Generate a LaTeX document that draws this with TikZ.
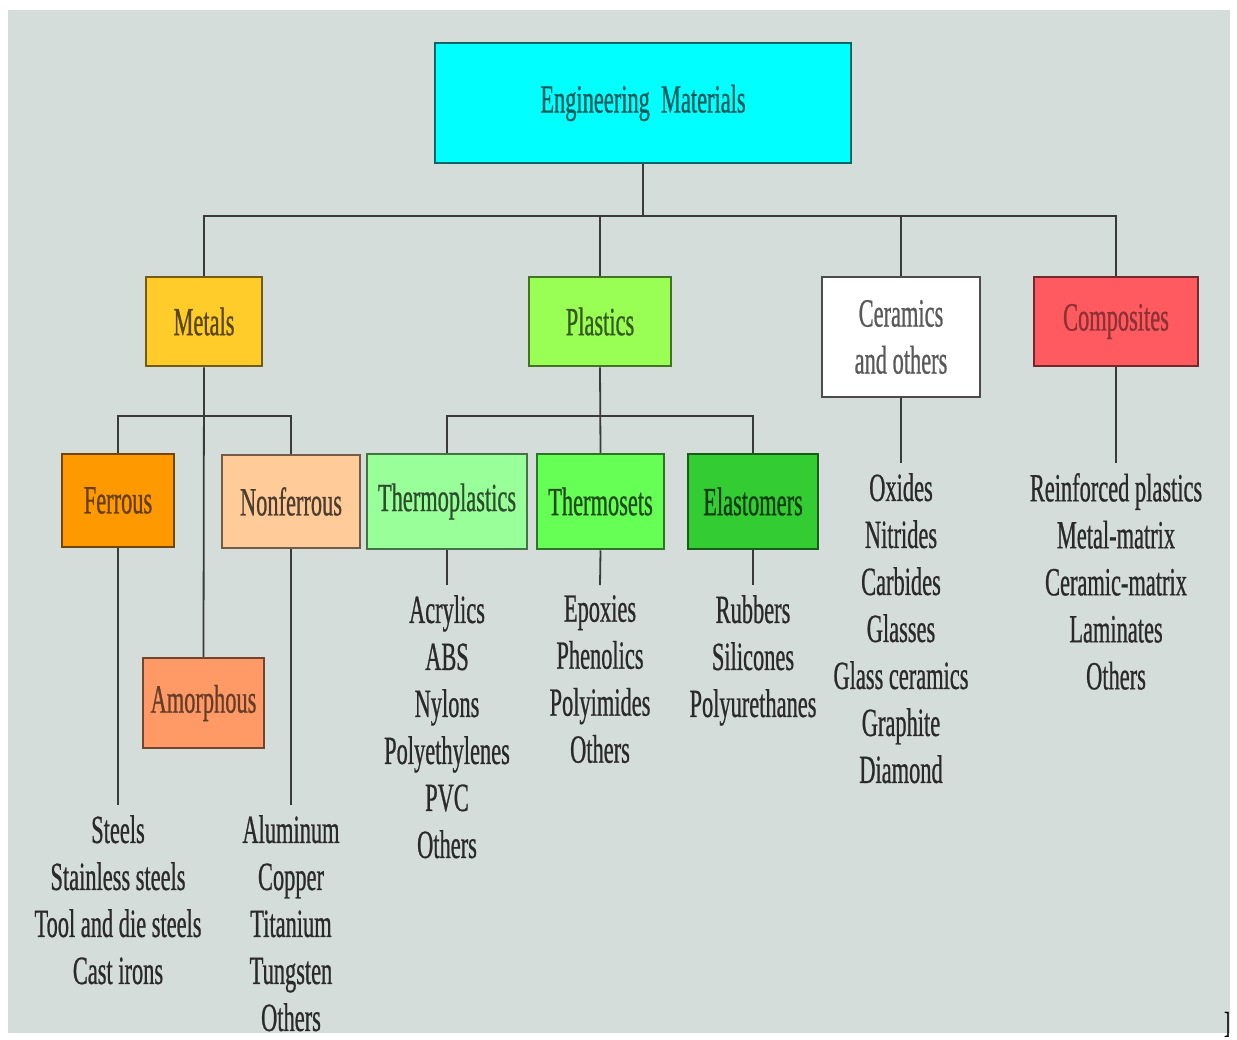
\documentclass[tikz,border=0pt]{standalone}
\usepackage{fontspec}
\setmainfont{Liberation Serif}[FakeStretch=0.56,FakeBold=0.6]
\usetikzlibrary{calc,positioning}

\definecolor{panelbg}{HTML}{D4DDD9}
\definecolor{wire}{HTML}{3A3A3A}
\definecolor{listink}{HTML}{2A2A2A}
\definecolor{emfill}{HTML}{00FFFF}
\definecolor{metalfill}{HTML}{FFCC2A}
\definecolor{plasticfill}{HTML}{99FF55}
\definecolor{compfill}{HTML}{FF5A5F}
\definecolor{ferrfill}{HTML}{FF9900}
\definecolor{nonferrfill}{HTML}{FFCC99}
\definecolor{amorphfill}{HTML}{FF9966}
\definecolor{tplastfill}{HTML}{99FF99}
\definecolor{tsetfill}{HTML}{66FF55}
\definecolor{elastfill}{HTML}{33CC33}

\tikzset{
  box/.style={draw=#1!45!black,fill=#1,line width=2.5pt,inner sep=0pt,align=center,
    font=\fontsize{40}{47}\selectfont},
  listtext/.style={anchor=north,align=center,inner sep=10pt,text=listink,
    font=\fontsize{40}{47}\selectfont},
  wire/.style={draw=wire,line width=1.8pt}
}

\begin{document}
\begin{tikzpicture}[x=1pt,y=-1pt]
  % Background panel
  \useasboundingbox (0,0) rectangle (1237,1039);
  \fill[panelbg] (8,10) rectangle (1230,1033);

  % Top
  \node[box=emfill,draw=emfill!40!black,text=emfill!35!black,minimum width=416pt,minimum height=120pt] (em) at (643,103) {Engineering\ \ Materials};

  % Main classes
  \node[box=metalfill,text=metalfill!35!black,minimum width=116pt,minimum height=89pt] (metals) at (204,321.5) {Metals};
  \node[box=plasticfill,text=plasticfill!35!black,minimum width=142pt,minimum height=89pt] (plastics) at (600,321.5) {Plastics};
  \node[box=white,draw=black!70,text=black!65,minimum width=158pt,minimum height=120pt] (ceramics) at (901,337) {Ceramics\\and others};
  \node[box=compfill,text=compfill!55!black,minimum width=164pt,minimum height=89pt] (composites) at (1116,321.5) {Composites};

  % Metals
  \node[box=ferrfill,text=ferrfill!40!black,minimum width=112pt,minimum height=93pt] (ferrous) at (118,500.5) {Ferrous};
  \node[box=nonferrfill,text=nonferrfill!30!black,minimum width=138pt,minimum height=93pt] (nonferrous) at (291,501.5) {Nonferrous};
  \node[box=amorphfill,text=amorphfill!40!black,minimum width=121pt,minimum height=90pt] (amorphous) at (203.5,703) {Amorphous};

  % Plastics
  \node[box=tplastfill,text=tplastfill!30!black,minimum width=160pt,minimum height=95pt] (thermoplastics) at (447,501.5) {Thermoplastics};
  \node[box=tsetfill,text=tsetfill!30!black,minimum width=127pt,minimum height=95pt] (thermosets) at (600.5,501.5) {Thermosets};
  \node[box=elastfill,text=elastfill!30!black,minimum width=130pt,minimum height=95pt] (elastomers) at (753,501.5) {Elastomers};

  % Lists
  \node[listtext] (ferrousList) at (118,805) {Steels\\Stainless steels\\Tool and die steels\\Cast irons};
  \node[listtext] (nonferrousList) at (291,805) {Aluminum\\Copper\\Titanium\\Tungsten\\Others};
  \node[listtext] (thermoplasticsList) at (447,585) {Acrylics\\ABS\\Nylons\\Polyethylenes\\PVC\\Others};
  \node[listtext] (thermosetsList) at (600,585) {Epoxies\\Phenolics\\Polyimides\\Others};
  \node[listtext] (elastomersList) at (753,585) {Rubbers\\Silicones\\Polyurethanes};
  \node[listtext] (ceramicsList) at (901,463) {Oxides\\Nitrides\\Carbides\\Glasses\\Glass ceramics\\Graphite\\Diamond};
  \node[listtext] (compositesList) at (1116,463) {Reinforced plastics\\Metal-matrix\\Ceramic-matrix\\Laminates\\Others};

  % Stray mark
  \node[anchor=south,inner sep=0pt,font=\fontsize{30}{30}\selectfont] (mark) at (1227,1037) {]};

  % Connectors
  \coordinate (bus) at (643,216);
  \coordinate (metalsBus) at (204,416);
  \coordinate (plasticsBus) at (600,416);
  \draw[wire] (em.south) -- (bus);
  \draw[wire] (metals.north) |- (bus) -| (composites.north);
  \draw[wire] (plastics.north) -- (plastics.north |- bus);
  \draw[wire] (ceramics.north) -- (ceramics.north |- bus);

  \draw[wire] (metals.south) -- (amorphous.north);
  \draw[wire] (ferrous.north) |- (metalsBus) -| (nonferrous.north);
  \draw[wire] (plastics.south) -- (thermosets.north);
  \draw[wire] (thermoplastics.north) |- (plasticsBus) -| (elastomers.north);

  \draw[wire] (ferrous.south) -- (ferrousList.north);
  \draw[wire] (nonferrous.south) -- (nonferrousList.north);
  \draw[wire] (thermoplastics.south) -- (thermoplasticsList.north);
  \draw[wire] (thermosets.south) -- (thermosetsList.north);
  \draw[wire] (elastomers.south) -- (elastomersList.north);
  \draw[wire] (ceramics.south) -- (ceramicsList.north);
  \draw[wire] (composites.south) -- (compositesList.north);
\end{tikzpicture}
\end{document}
